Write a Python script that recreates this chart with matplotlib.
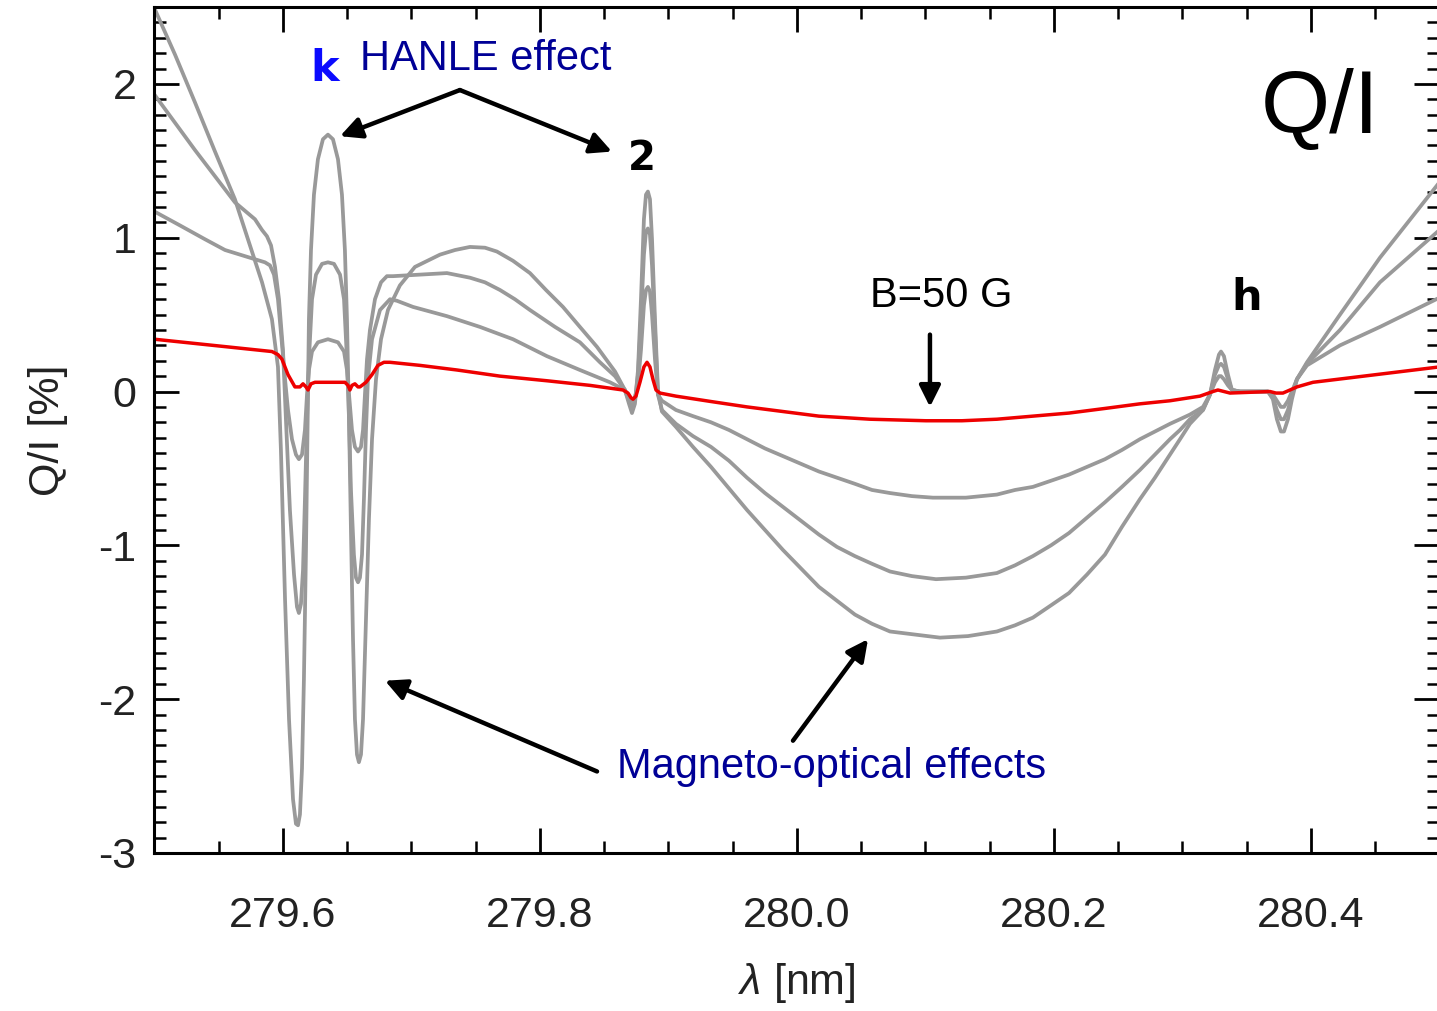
import matplotlib
matplotlib.use("Agg")
import matplotlib.pyplot as plt
from matplotlib.ticker import MultipleLocator, FormatStrFormatter

plt.rcParams['font.family'] = ['Liberation Sans', 'DejaVu Sans']
plt.rcParams['axes.unicode_minus'] = False
plt.rcParams['mathtext.fontset'] = 'custom'
plt.rcParams['mathtext.it'] = 'Liberation Sans:italic'

# wavelength [nm] and Q/I [%], one set per curve
wl_a = [279.5000, 279.5160, 279.5315, 279.5471, 279.5626, 279.5743, 279.5837, 279.5914, 279.5961,
        279.5984, 279.6016, 279.6047, 279.6078, 279.6101, 279.6117, 279.6132, 279.6148, 279.6163,
        279.6179, 279.6191, 279.6202, 279.6218, 279.6241, 279.6272, 279.6311, 279.6350, 279.6389,
        279.6428, 279.6459, 279.6482, 279.6498, 279.6514, 279.6529, 279.6545, 279.6560, 279.6576,
        279.6591, 279.6607, 279.6623, 279.6646, 279.6669, 279.6693, 279.6724, 279.6763, 279.6817,
        279.6910, 279.7027, 279.7222, 279.7339, 279.7455, 279.7572, 279.7665, 279.7790, 279.7922,
        279.8047, 279.8179, 279.8311, 279.8444, 279.8584,
        279.8661, 279.8693, 279.8716, 279.8739, 279.8763, 279.8786, 279.8809, 279.8825, 279.8840,
        279.8856, 279.8872, 279.8895, 279.8918, 279.8949, 279.9058, 279.9191, 279.9331, 279.9471,
        279.9611, 279.9751, 279.9891, 280.0031, 280.0171, 280.0311, 280.0451, 280.0584, 280.0724,
        280.0918, 280.1113, 280.1331, 280.1556, 280.1697, 280.1836, 280.1977, 280.2117, 280.2257,
        280.2397, 280.2529, 280.2669, 280.2786, 280.2903, 280.2981, 280.3058, 280.3160, 280.3214,
        280.3253, 280.3284, 280.3300, 280.3323, 280.3354, 280.3385, 280.3447, 280.3665, 280.3704,
        280.3735, 280.3766, 280.3790, 280.3821, 280.3852, 280.3891, 280.3969, 280.4226, 280.4537,
        280.5000]
qi_a = [2.49, 2.19, 1.88, 1.56, 1.25, 0.95, 0.71, 0.47, 0.16,
        -0.38, -1.35, -2.13, -2.65, -2.81, -2.82, -2.75, -2.45, -1.87,
        -1.03, -0.25, 0.47, 0.92, 1.28, 1.51, 1.64, 1.67, 1.64,
        1.51, 1.28, 0.92, 0.47, -0.18, -0.90, -1.61, -2.13, -2.36,
        -2.41, -2.36, -2.13, -1.48, -0.83, -0.31, 0.08, 0.34, 0.53,
        0.69, 0.81, 0.89, 0.92, 0.94, 0.935, 0.91, 0.85, 0.77,
        0.66, 0.55, 0.42, 0.29, 0.13,
        0.01, -0.08, -0.14, -0.08, 0.14, 0.60, 1.12, 1.28, 1.30,
        1.25, 0.99, 0.47, 0.01, -0.13, -0.23, -0.36, -0.49, -0.63,
        -0.77, -0.90, -1.03, -1.15, -1.27, -1.36, -1.45, -1.51, -1.56,
        -1.58, -1.60, -1.59, -1.56, -1.52, -1.47, -1.39, -1.31, -1.19,
        -1.06, -0.88, -0.70, -0.56, -0.41, -0.31, -0.21, -0.12, -0.02,
        0.14, 0.24, 0.26, 0.23, 0.11, 0.01, 0.00, 0.00, -0.05,
        -0.18, -0.26, -0.26, -0.18, -0.05, 0.08, 0.19, 0.50, 0.87,
        1.36]

wl_b = [279.5000, 279.5315, 279.5626, 279.5782, 279.5837, 279.5875, 279.5907, 279.5938, 279.5969,
        279.6000, 279.6023, 279.6054, 279.6086, 279.6109, 279.6124, 279.6140, 279.6156, 279.6171,
        279.6187, 279.6202, 279.6226, 279.6257, 279.6304, 279.6350, 279.6397, 279.6444, 279.6475,
        279.6498, 279.6514, 279.6529, 279.6552, 279.6568, 279.6584, 279.6599, 279.6615, 279.6630,
        279.6646, 279.6661, 279.6693, 279.6755, 279.6833, 279.6887, 279.7012, 279.7276, 279.7533,
        279.7790, 279.8054, 279.8311, 279.8545, 279.8661, 279.8693, 279.8716, 279.8739, 279.8763,
        279.8786, 279.8809, 279.8825, 279.8840, 279.8856, 279.8872, 279.8895, 279.8918, 279.8949,
        279.9058, 279.9191, 279.9331, 279.9471, 279.9611, 279.9751, 279.9891, 280.0031, 280.0171,
        280.0311, 280.0451, 280.0584, 280.0724, 280.0895, 280.1082, 280.1315, 280.1556, 280.1697,
        280.1836, 280.1977, 280.2117, 280.2257, 280.2397, 280.2529, 280.2669, 280.2786, 280.2903,
        280.2981, 280.3058, 280.3160, 280.3214, 280.3253,
        280.3284, 280.3300, 280.3323, 280.3354, 280.3385, 280.3447, 280.3665, 280.3704, 280.3735,
        280.3766, 280.3790, 280.3821, 280.3852, 280.3891, 280.3969, 280.4226, 280.4537, 280.5000]
qi_b = [1.93, 1.57, 1.23, 1.12, 1.05, 1.01, 0.95, 0.81, 0.60,
        0.27, -0.18, -0.77, -1.19, -1.40, -1.44, -1.38, -1.16, -0.70,
        -0.18, 0.21, 0.60, 0.76, 0.83, 0.84, 0.83, 0.76, 0.60,
        0.21, -0.18, -0.64, -1.06, -1.21, -1.24, -1.21, -1.06, -0.70,
        -0.25, 0.08, 0.34, 0.53, 0.60, 0.59, 0.55, 0.49, 0.42,
        0.34, 0.23, 0.14, 0.06, 0.01, -0.06, -0.10, -0.06, 0.11,
        0.47, 0.89, 1.04, 1.06, 1.02, 0.82, 0.40, -0.02, -0.12,
        -0.21, -0.29, -0.36, -0.45, -0.56, -0.66, -0.75, -0.84, -0.93,
        -1.01, -1.07, -1.12, -1.17, -1.20, -1.22, -1.21, -1.18, -1.13,
        -1.07, -1.00, -0.92, -0.82, -0.72, -0.62, -0.51, -0.41, -0.31,
        -0.25, -0.18, -0.12, -0.02, 0.11,
        0.17, 0.18, 0.16, 0.08, 0.01, 0.00, 0.00, -0.04, -0.12,
        -0.18, -0.18, -0.12, -0.02, 0.08, 0.18, 0.40, 0.71, 1.05]

wl_c = [279.5000, 279.5198, 279.5393, 279.5549, 279.5704, 279.5860, 279.5899, 279.5930, 279.5961,
        279.5992, 279.6016, 279.6039, 279.6070, 279.6101, 279.6124, 279.6148, 279.6171, 279.6187,
        279.6202, 279.6226, 279.6272, 279.6350, 279.6428, 279.6475, 279.6498, 279.6514, 279.6537,
        279.6560, 279.6584, 279.6607, 279.6623, 279.6638, 279.6654, 279.6677, 279.6716, 279.6763,
        279.6809, 279.6856, 279.7066, 279.7276, 279.7455, 279.7572, 279.7689, 279.7805, 279.7922,
        279.8117, 279.8311, 279.8467, 279.8584, 279.8661, 279.8693, 279.8716, 279.8739, 279.8763,
        279.8786, 279.8809, 279.8825, 279.8840, 279.8856, 279.8872, 279.8895, 279.8918, 279.8949,
        279.9058, 279.9191, 279.9331, 279.9471, 279.9611, 279.9751, 279.9891, 280.0031, 280.0171,
        280.0311, 280.0451, 280.0584, 280.0724, 280.0895, 280.1058, 280.1315, 280.1556, 280.1697,
        280.1836, 280.1977, 280.2117, 280.2257, 280.2397, 280.2529, 280.2669, 280.2786, 280.2903,
        280.2981, 280.3058, 280.3160, 280.3214, 280.3253, 280.3284, 280.3300,
        280.3323, 280.3354, 280.3385, 280.3447, 280.3665, 280.3704, 280.3735, 280.3766, 280.3790,
        280.3821, 280.3852, 280.3891, 280.3969, 280.4226, 280.4537, 280.5000]
qi_c = [1.17, 1.08, 0.99, 0.92, 0.88, 0.84, 0.82, 0.76, 0.60,
        0.31, 0.08, -0.12, -0.31, -0.41, -0.44, -0.41, -0.25, -0.02,
        0.14, 0.26, 0.32, 0.34, 0.32, 0.26, 0.14, -0.02, -0.25,
        -0.36, -0.39, -0.36, -0.25, -0.02, 0.21, 0.40, 0.60, 0.71,
        0.75, 0.75, 0.76, 0.77, 0.74, 0.71, 0.66, 0.60, 0.53,
        0.42, 0.32, 0.19, 0.10, 0.01, -0.04, -0.06, -0.04, 0.05,
        0.27, 0.56, 0.66, 0.68, 0.65, 0.50, 0.21, -0.02, -0.06,
        -0.12, -0.16, -0.20, -0.25, -0.31, -0.37, -0.42, -0.47, -0.52,
        -0.56, -0.60, -0.64, -0.66, -0.68, -0.69, -0.69, -0.67, -0.64,
        -0.62, -0.58, -0.54, -0.49, -0.44, -0.38, -0.31, -0.26, -0.21,
        -0.18, -0.15, -0.10, -0.02, 0.06, 0.10, 0.10,
        0.08, 0.04, 0.01, 0.00, 0.00, -0.02, -0.06, -0.10, -0.10,
        -0.06, 0.00, 0.08, 0.17, 0.30, 0.42, 0.61]

# B = 50 G profile
wl_red = [279.5000, 279.5914, 279.5961, 279.5992, 279.6039, 279.6093, 279.6132, 279.6156, 279.6179,
          279.6195, 279.6218, 279.6249, 279.6482, 279.6506, 279.6521, 279.6537, 279.6560, 279.6584,
          279.6599, 279.6646, 279.6693, 279.6739, 279.6786, 279.6833, 279.7066, 279.7354, 279.7689,
          279.8054, 279.8389, 279.8646,
          279.8685, 279.8708, 279.8724, 279.8747, 279.8778, 279.8809, 279.8833, 279.8856, 279.8879,
          279.8903, 279.8934, 279.9058, 279.9331, 279.9611, 279.9891, 280.0171, 280.0374, 280.0568,
          280.1004, 280.1284, 280.1556, 280.1836, 280.2117, 280.2397, 280.2669, 280.2903, 280.3136,
          280.3237, 280.3276, 280.3323, 280.3370, 280.3681, 280.3728, 280.3782,
          280.3837, 280.3891, 280.4016, 280.5000]
qi_red = [0.34, 0.26, 0.24, 0.21, 0.11, 0.03, 0.03, 0.05, 0.03,
          0.01, 0.05, 0.06, 0.06, 0.04, 0.01, 0.04, 0.05, 0.03,
          0.03, 0.06, 0.11, 0.17, 0.19, 0.19, 0.17, 0.14, 0.10,
          0.07, 0.04, 0.01,
          -0.01, -0.04, -0.05, -0.03, 0.06, 0.16, 0.19, 0.16, 0.08,
          0.01, -0.01, -0.03, -0.065, -0.10, -0.13, -0.16, -0.17, -0.18,
          -0.19, -0.19, -0.18, -0.16, -0.14, -0.11, -0.08, -0.06, -0.03,
          0.00, 0.01, 0.00, -0.01, 0.00, -0.01, -0.01,
          0.01, 0.03, 0.06, 0.16]

gray = '#999999'
navy = '#000096'

fig = plt.figure(figsize=(14.37, 10.11), dpi=100)
ax = fig.add_axes([0.1075, 0.1563, 0.8942, 0.8368])

for wl, qi in [(wl_c, qi_c), (wl_b, qi_b), (wl_a, qi_a)]:
    ax.plot(wl, qi, color=gray, lw=2.7, solid_joinstyle='round')
ax.plot(wl_red, qi_red, color='#ee0000', lw=2.5, solid_joinstyle='round')

ax.set_xlim(279.5, 280.5)
ax.set_ylim(-3, 2.5)
ax.xaxis.set_major_locator(MultipleLocator(0.2))
ax.xaxis.set_minor_locator(MultipleLocator(0.05))
ax.yaxis.set_major_locator(MultipleLocator(1))
ax.yaxis.set_minor_locator(MultipleLocator(0.1))
ax.xaxis.set_major_formatter(FormatStrFormatter('%.1f'))
ax.yaxis.set_major_formatter(FormatStrFormatter('%d'))
ax.tick_params(which='both', direction='in', top=True, right=True, colors='black',
               labelcolor='#222222', labelsize=31)
ax.tick_params(which='major', length=18, width=2)
ax.tick_params(which='minor', length=8.5, width=1.8)
ax.tick_params(axis='x', pad=31)
ax.tick_params(axis='y', pad=13)
for s in ax.spines.values():
    s.set_linewidth(2.2)

ax.set_xlabel(r'$\lambda$ [nm]', fontsize=31, color='#222222', labelpad=18)
ax.set_ylabel('Q/I [%]', fontsize=31, color='#222222', labelpad=22)

# annotations
arrow = dict(arrowstyle='-|>', lw=3.2, color='black', mutation_scale=32, shrinkA=0, shrinkB=0)
ax.annotate('', xy=(279.6444, 1.66), xytext=(279.7377, 1.96), arrowprops=arrow)
ax.annotate('', xy=(279.8560, 1.56), xytext=(279.7377, 1.96), arrowprops=arrow)
ax.annotate('', xy=(280.1035, -0.10), xytext=(280.1035, 0.37), arrowprops=arrow)
ax.annotate('', xy=(279.6794, -1.88), xytext=(279.8444, -2.47), arrowprops=arrow)
ax.annotate('', xy=(280.0553, -1.61), xytext=(279.9969, -2.27), arrowprops=arrow)

ax.text(279.6327, 2.10, 'k', color='#0a0aff', fontsize=31, fontweight='bold',
        family='DejaVu Sans', ha='center', va='center')
ax.text(279.6599, 2.16, 'HANLE effect', color=navy, fontsize=30, ha='left', va='center')
ax.text(279.8794, 1.51, '2', color='black', fontsize=29, fontweight='bold',
        family='DejaVu Sans', ha='center', va='center')
ax.text(280.3502, 0.61, 'h', color='black', fontsize=31, fontweight='bold',
        family='DejaVu Sans', ha='center', va='center')
ax.text(280.1121, 0.62, 'B=50 G', color='black', fontsize=30, ha='center', va='center')
ax.text(279.8599, -2.44, 'Magneto-optical effects', color=navy, fontsize=30, ha='left', va='center')
ax.text(280.407, 1.83, 'Q/I', color='black', fontsize=64, ha='center', va='center')

fig.savefig('out.png', dpi=100)
